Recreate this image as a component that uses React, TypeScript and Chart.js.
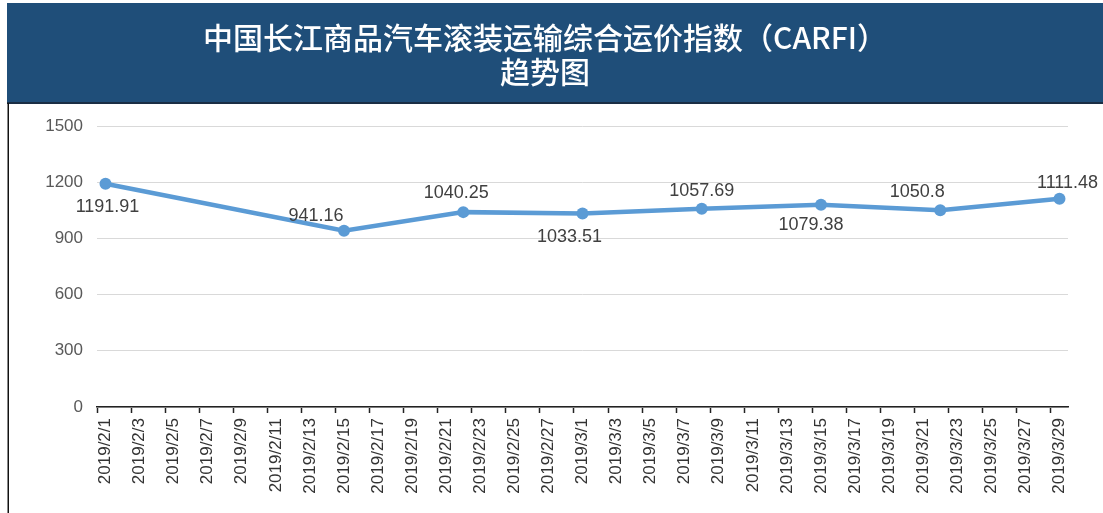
import React, { useEffect, useRef } from "react";
import { Chart, registerables } from "chart.js";

Chart.register(...registerables);

// Axis categories: every day from 2019/2/1 to 2019/3/29
const startDay = new Date(2019, 1, 1);
const dayCount = 57;
const axisDates: string[] = [];
for (let i = 0; i < dayCount; i++) {
  const d = new Date(startDay.getFullYear(), startDay.getMonth(), startDay.getDate() + i);
  axisDates.push(`${d.getFullYear()}/${d.getMonth() + 1}/${d.getDate()}`);
}

// Weekly index observations
const pointDates = ["2019/2/1", "2019/2/15", "2019/2/22", "2019/3/1", "2019/3/8", "2019/3/15", "2019/3/22", "2019/3/29"];
const carfiValues = [1191.91, 941.16, 1040.25, 1033.51, 1057.69, 1079.38, 1050.8, 1111.48];
const valueLabels = ["1191.91", "941.16", "1040.25", "1033.51", "1057.69", "1079.38", "1050.8", "1111.48"];

// Y axis
const yMin = 0;
const yMax = 1500;
const yStep = 300;

const titleLines = ["中国长江商品汽车滚装运输综合运价指数（CARFI）", "趋势图"];

// data label placement (dx, dy relative to the point)
const labelDx = [2, -28, -7, -13, 0, -10, -23, 8];
const labelDy = [23, -15, -19, 24, -18, 20, -18, -16];

const seriesData = axisDates.map((d) => {
  const idx = pointDates.indexOf(d);
  return idx >= 0 ? carfiValues[idx] : null;
});

const headerPlugin = {
  id: "header",
  beforeDraw(chart: any) {
    const ctx = chart.ctx;
    ctx.save();
    ctx.fillStyle = "#ffffff";
    ctx.fillRect(0, 0, chart.width, chart.height);
    ctx.fillStyle = "#1F4E79";
    ctx.fillRect(7, 3, chart.width - 7, 100);
    ctx.fillStyle = "#1a2e44";
    ctx.fillRect(7, 102, chart.width - 7, 2);
    ctx.fillStyle = "#111111";
    ctx.fillRect(7.5, 103, 1.5, chart.height - 103);
    ctx.restore();
  },
};

const valueLabelPlugin = {
  id: "valueLabels",
  afterDatasetsDraw(chart: any) {
    const ctx = chart.ctx;
    const meta = chart.getDatasetMeta(0);
    ctx.save();
    ctx.font = '18px "Liberation Sans", Arial, sans-serif';
    ctx.fillStyle = "#404040";
    ctx.textAlign = "center";
    ctx.textBaseline = "middle";
    pointDates.forEach((d, k) => {
      const i = axisDates.indexOf(d);
      const el = meta.data[i];
      if (!el) return;
      ctx.fillText(valueLabels[k], el.x + labelDx[k], el.y + labelDy[k]);
    });
    ctx.restore();
  },
};

export default function App() {
  const canvasRef = useRef<HTMLCanvasElement>(null);

  useEffect(() => {
    document.body.style.margin = "0";
    const canvas = canvasRef.current;
    if (!canvas) return;
    const chart = new Chart(canvas, {
      type: "line",
      data: {
        labels: axisDates,
        datasets: [
          {
            label: "CARFI",
            data: seriesData,
            borderColor: "#5B9BD5",
            backgroundColor: "#5B9BD5",
            borderWidth: 4.5,
            pointRadius: 6,
            pointBackgroundColor: "#5B9BD5",
            pointBorderColor: "#5B9BD5",
            pointBorderWidth: 0,
            spanGaps: true,
            tension: 0,
          },
        ],
      },
      options: {
        animation: false,
        responsive: true,
        maintainAspectRatio: false,
        layout: { padding: { left: 22, right: 35, top: 0, bottom: 0 } },
        plugins: {
          legend: { display: false },
          tooltip: { enabled: false },
          title: {
            display: true,
            text: titleLines,
            color: "#ffffff",
            font: { family: '"Noto Sans CJK SC", sans-serif', size: 30, weight: 500, lineHeight: 34 / 30 },
            padding: { top: 21, bottom: 37 },
          },
        },
        scales: {
          x: {
            type: "category",
            offset: true,
            grid: {
              offset: true,
              drawOnChartArea: false,
              drawTicks: true,
              tickLength: 6,
              tickColor: (ctx: any) =>
                typeof ctx.index === "number" && ctx.index % 2 === 0 ? "#222222" : "rgba(0,0,0,0)",
              tickWidth: 1.5,
            },
            border: { display: true, color: "#222222", width: 1.5 },
            ticks: {
              autoSkip: false,
              maxRotation: 90,
              minRotation: 90,
              padding: 5,
              color: "#333333",
              font: { family: '"Liberation Sans", Arial, sans-serif', size: 17 },
              callback: (_v: any, i: number) => (i % 2 === 0 ? axisDates[i] : ""),
            },
            afterFit: (scale: any) => {
              scale.height = 106;
            },
          },
          y: {
            min: yMin,
            max: yMax,
            grid: { color: "#D9D9D9", lineWidth: 1, drawTicks: false },
            border: { display: false },
            ticks: {
              stepSize: yStep,
              padding: 14,
              color: "#595959",
              font: { family: '"Liberation Sans", Arial, sans-serif', size: 17 },
              callback: (v: any) => String(v),
            },
            afterFit: (scale: any) => {
              scale.width = 75;
            },
          },
        },
      },
      plugins: [headerPlugin, valueLabelPlugin],
    });
    return () => chart.destroy();
  }, []);

  return (
    <div style={{ position: "relative", width: "1103px", height: "513px" }}>
      <canvas ref={canvasRef} style={{ display: "block" }} />
    </div>
  );
}
